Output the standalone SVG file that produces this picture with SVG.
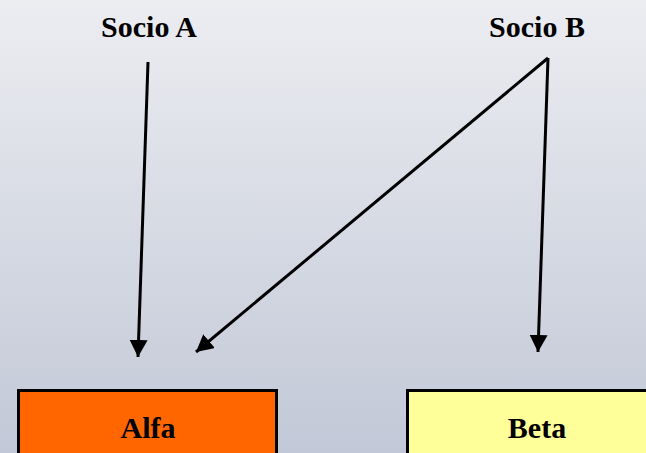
<svg xmlns="http://www.w3.org/2000/svg" width="646" height="453" viewBox="0 0 646 453">
<defs>
<linearGradient id="bg" x1="0" y1="0" x2="0" y2="1">
<stop offset="0" stop-color="#ecedf1"/>
<stop offset="1" stop-color="#c2c8d7"/>
</linearGradient>
<marker id="ah" markerUnits="userSpaceOnUse" markerWidth="20" markerHeight="20" refX="17" refY="9" orient="auto">
<path d="M0,0 L17,9 L0,18 Z" fill="#000"/>
</marker>
<style>
.lbl{font-family:"Liberation Serif","Times New Roman",serif;font-weight:bold;font-size:30px;fill:#000;text-anchor:middle}
.box{stroke:#000;stroke-width:3}
.c{stroke:#000;stroke-width:3;fill:none;marker-end:url(#ah)}
</style>
</defs>
<rect width="646" height="453" fill="url(#bg)"/>
<g id="socioA"><text class="lbl" x="149" y="37">Socio A</text></g>
<g id="socioB"><text class="lbl" x="537" y="37">Socio B</text></g>
<g id="alfa"><rect class="box" x="18.5" y="390.5" width="258" height="70" fill="#ff6600"/><text class="lbl" x="148" y="438">Alfa</text></g>
<g id="beta"><rect class="box" x="407.5" y="390.5" width="250" height="70" fill="#ffff99"/><text class="lbl" x="537" y="438">Beta</text></g>
<g id="connectors">
<line class="c" x1="148" y1="62" x2="138" y2="357"/>
<line class="c" x1="548" y1="58" x2="196" y2="352"/>
<line class="c" x1="548" y1="58" x2="538" y2="352"/>
</g>
</svg>
